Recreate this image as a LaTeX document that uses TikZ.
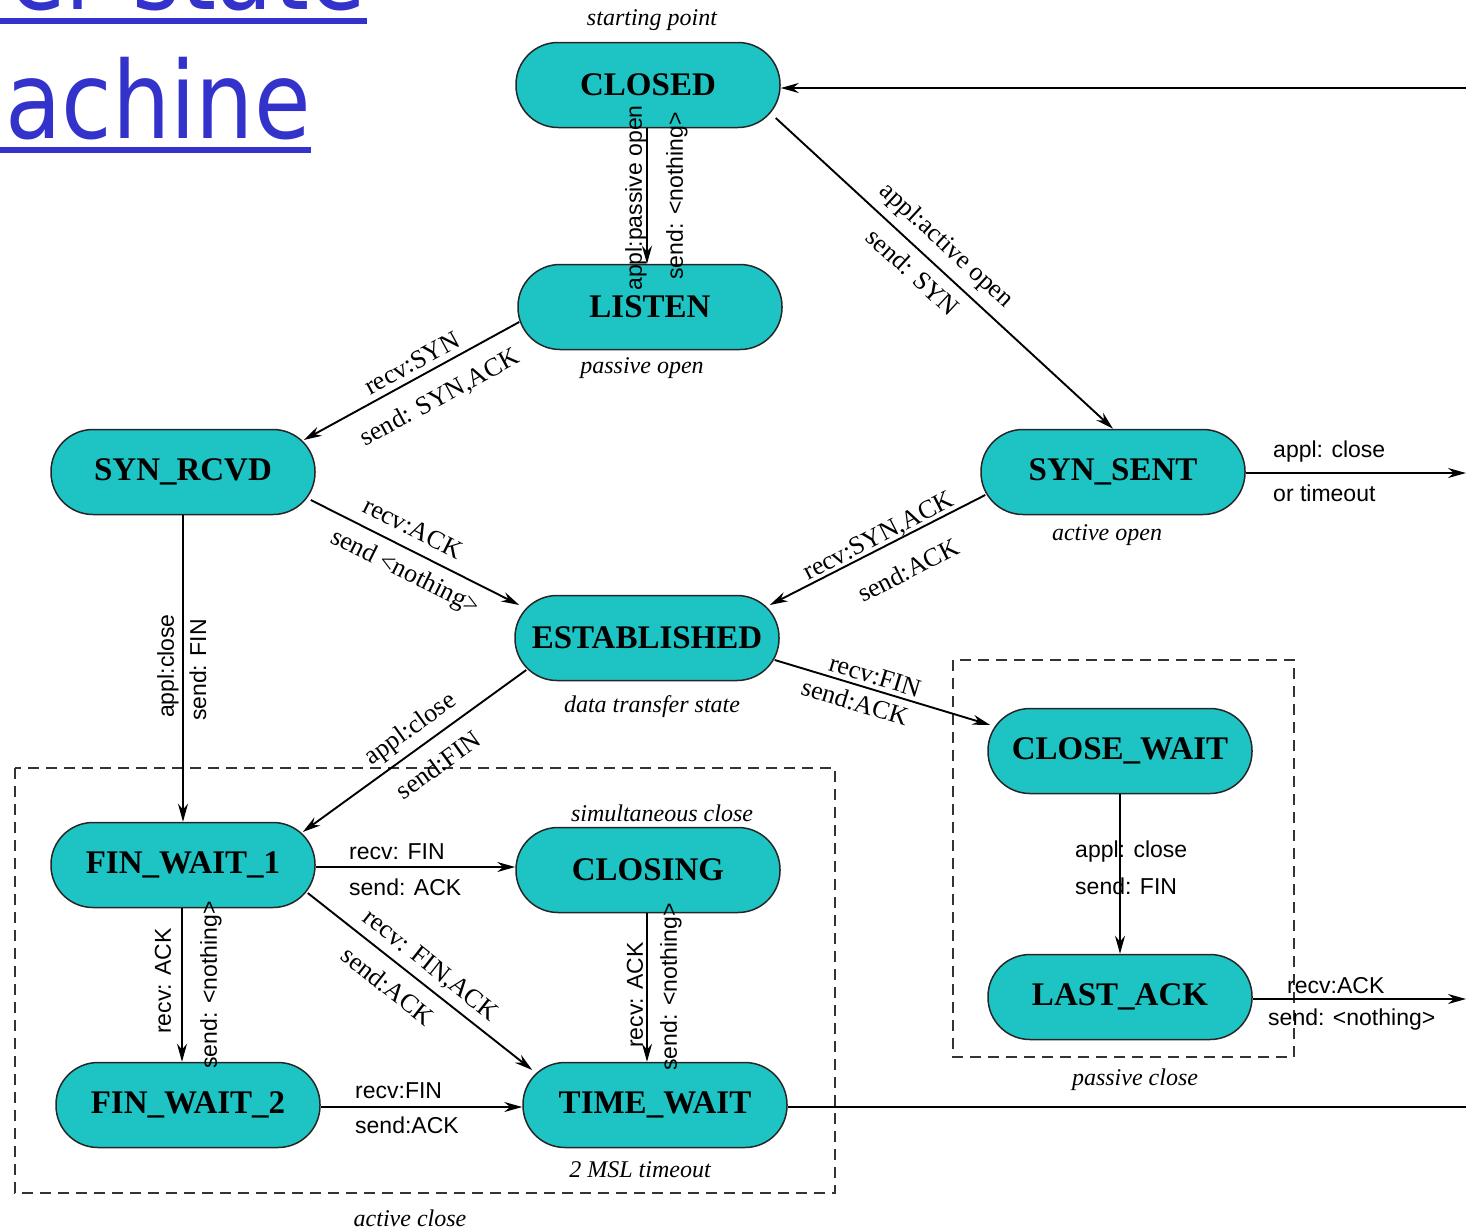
\documentclass[tikz,border=0pt]{standalone}
\usepackage{fontspec}
\setmainfont{Liberation Serif}
\setsansfont{Liberation Sans}
\newfontfamily\titlefont{DejaVu Sans}
\usetikzlibrary{arrows.meta,calc}
\definecolor{statefill}{RGB}{30,196,196}
\definecolor{titleblue}{RGB}{51,51,204}
\begin{document}
\begin{tikzpicture}[x=1pt,y=-1pt,
  state/.style={draw=black!85, line width=1.5pt, fill=statefill, rounded corners=42pt,
    minimum width=264pt, minimum height=85pt, inner sep=0pt,
    font=\fontsize{33}{33}\selectfont\bfseries},
  lab/.style={font=\fontsize{26}{26}\selectfont, inner sep=0pt},
  slab/.style={font=\sffamily\fontsize{23}{23}\selectfont, inner sep=0pt},
  note/.style={font=\itshape\fontsize{24}{24}\selectfont, inner sep=0pt},
  conn/.style={line width=1.9pt, -{Stealth[length=18pt,width=10pt]}},
  plain/.style={line width=1.9pt},
  box/.style={dash pattern=on 11pt off 7pt, line width=1.4pt, draw=black!80}]
\useasboundingbox (0,0) rectangle (1466,1229);
\clip (0,0) rectangle (1466,1229);

% title fragment
\node[font=\titlefont\fontsize{107}{107}\selectfont, text=titleblue, xscale=0.86,
  anchor=base east, inner sep=0pt] (title1) at (366,9) {er state};
\node[font=\titlefont\fontsize{107}{107}\selectfont, text=titleblue, xscale=0.86,
  anchor=base east, inner sep=0pt] (title2) at (311,138) {machine};
\fill[titleblue] (0,18) rectangle (367,24);
\fill[titleblue] (0,147) rectangle (311,153);

% dashed boxes
\draw[box] (15,768) rectangle (835,1193);
\draw[box] (953,660) rectangle (1294,1057);

% states
\node[state] (closed) at (648,85) {CLOSED};
\node[state] (listen) at (650,307) {LISTEN};
\node[state] (synrcvd) at (183,472) {SYN\_RCVD};
\node[state] (synsent) at (1113,472) {SYN\_SENT};
\node[state] (est) at (647,638) {ESTABLISHED};
\node[state] (closewait) at (1120,751) {CLOSE\_WAIT};
\node[state] (fw1) at (183,865) {FIN\_WAIT\_1};
\node[state] (closing) at (648,870) {CLOSING};
\node[state] (lastack) at (1120,997) {LAST\_ACK};
\node[state] (fw2) at (188,1105) {FIN\_WAIT\_2};
\node[state] (timewait) at (655,1105) {TIME\_WAIT};

% free ends on the right edge
\coordinate (cin) at (1466,88);
\coordinate (ssout) at (1466,473);
\coordinate (laout) at (1466,999);
\coordinate (twout) at (1466,1107);

% connectors
\draw[conn] ([shift={(-1,0)}]closed.south) -- ([shift={(-3,0)}]listen.north);
\draw[conn] (cin) -- (cin -| closed.east);
\draw[conn] ([shift={(-5,33)}]closed.east) -- (synsent.north);
\draw[conn] ([shift={(2,15)}]listen.west) -- ([shift={(-12,-32)}]synrcvd.east);
\draw[conn] ([shift={(-5,28)}]synrcvd.east) -- ([shift={(5,-33)}]est.west);
\draw[conn] ([shift={(5,23)}]synsent.west) -- ([shift={(-10,-33)}]est.east);
\draw[conn] ([shift={(0,1)}]synsent.east) -- (ssout);
\draw[conn] ([shift={(-5,22)}]est.east) -- ([shift={(3,-26)}]closewait.west);
\draw[conn] (synrcvd.south) -- (fw1.north);
\draw[conn] ([shift={(12,32)}]est.west) -- ([shift={(-13,-33)}]fw1.east);
\draw[conn] ([shift={(0,2)}]fw1.east) -- ([shift={(0,2)}]fw1.east -| closing.west);
\draw[conn] ([shift={(-8,28)}]fw1.east) -- ([shift={(10,-35)}]timewait.west);
\draw[conn] ([shift={(-1,0)}]fw1.south) -- ([shift={(-1,0)}]fw1.south |- fw2.north);
\draw[conn] ([shift={(-1,0)}]closing.south) -- ([shift={(-1,0)}]closing.south |- timewait.north);
\draw[conn] ([shift={(0,2)}]fw2.east) -- ([shift={(0,2)}]fw2.east -| timewait.west);
\draw[plain] ([shift={(0,2)}]timewait.east) -- (twout);
\draw[conn] (closewait.south) -- (lastack.north);
\draw[conn] ([shift={(0,2)}]lastack.east) -- (laout);

% annotations
\node[note] (n1) at (652,20) {starting point};
\node[note] (n2) at (642,368) {passive open};
\node[note] (n3) at (1107,535) {active open};
\node[note] (n4) at (652,707) {data transfer state};
\node[note] (n5) at (662,813) {simultaneous close};
\node[note] (n6) at (640,1170) {2 MSL timeout};
\node[note] (n7) at (1135,1080) {passive close};
\node[note] (n8) at (410,1218) {active close};

% edge labels
\node[slab, rotate=90] (l1a) at (636,198) {appl:passive open};
\node[slab, rotate=90] (l1b) at (677,196) {send: <nothing>};
\node[lab, rotate=-42.7] (l3a) at (946,246) {appl:active open};
\node[lab, rotate=-42.7] (l3b) at (913,272) {send: SYN};
\node[lab, rotate=28.5] (l4a) at (412,363) {recv:SYN};
\node[lab, rotate=28.5] (l4b) at (440,398) {send: SYN,ACK};
\node[lab, rotate=-26.6] (l5a) at (413,528) {recv:ACK};
\node[lab, rotate=-26.6] (l5b) at (405,573) {send <nothing>};
\node[lab, rotate=27.1] (l6a) at (879,537) {recv:SYN,ACK};
\node[lab, rotate=27.1] (l6b) at (908,570) {send:ACK};
\node[slab, anchor=west] (l7a) at (1273,452) {appl: close};
\node[slab, anchor=west] (l7b) at (1273,493) {or timeout};
\node[lab, rotate=-16.8] (l8a) at (875,676) {recv:FIN};
\node[lab, rotate=-16.8] (l8b) at (855,702) {send:ACK};
\node[slab, rotate=90] (l9a) at (168,666) {appl:close};
\node[slab, rotate=90] (l9b) at (198,670) {send: FIN};
\node[lab, rotate=35.9] (l10a) at (411,730) {appl:close};
\node[lab, rotate=35.9] (l10b) at (438,765) {send:FIN};
\node[slab, anchor=west] (l11a) at (349,852) {recv: FIN};
\node[slab, anchor=west] (l11b) at (349,887) {send: ACK};
\node[lab, rotate=-38.3] (l12a) at (430,966) {recv: FIN,ACK};
\node[lab, rotate=-38.3] (l12b) at (388,986) {send:ACK};
\node[slab, rotate=90] (l13a) at (163,981) {recv: ACK};
\node[slab, rotate=90] (l13b) at (211,985) {send: <nothing>};
\node[slab, rotate=90] (l14a) at (635,995) {recv: ACK};
\node[slab, rotate=90] (l14b) at (671,987) {send: <nothing>};
\node[slab, anchor=west] (l15a) at (355,1091) {recv:FIN};
\node[slab, anchor=west] (l15b) at (355,1125) {send:ACK};
\node[slab, anchor=west] (l17a) at (1075,852) {appl: close};
\node[slab, anchor=west] (l17b) at (1075,886) {send: FIN};
\node[slab, anchor=west] (l18a) at (1287,986) {recv:ACK};
\node[slab, anchor=west] (l18b) at (1268,1020) {send: <nothing>};
\end{tikzpicture}
\end{document}
